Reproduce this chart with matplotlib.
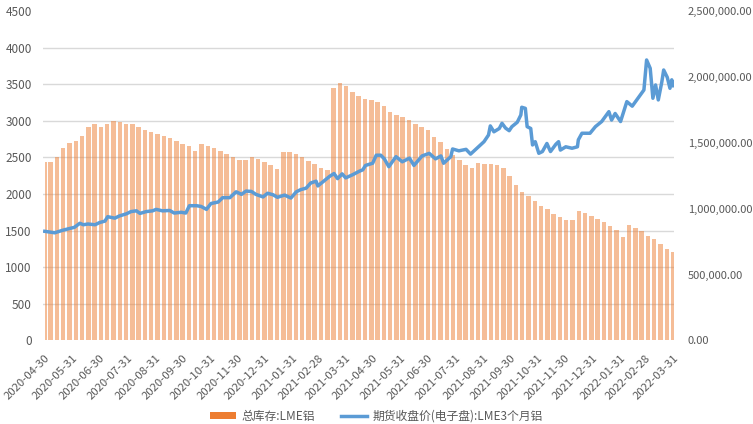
import matplotlib
matplotlib.use("Agg")
import matplotlib.pyplot as plt
import matplotlib.dates as mdates
from matplotlib.ticker import MultipleLocator, FuncFormatter
from matplotlib.patches import Patch
from matplotlib.lines import Line2D
import pandas as pd
import numpy as np

plt.rcParams['font.family'] = ['Noto Sans CJK SC', 'DejaVu Sans']

start_date = "2020-04-30"
end_date = "2022-03-31"

# Weekly LME aluminium total stock (tonnes), one value per week starting 2020-04-27
stock = [1356000, 1356000, 1389000, 1461000, 1500000, 1517000, 1550000, 1617000, 1644000, 1622000,
         1639000, 1667000, 1661000, 1644000, 1639000, 1617000, 1600000, 1583000, 1567000, 1550000,
         1533000, 1517000, 1494000, 1472000, 1439000, 1489000, 1478000, 1461000, 1439000, 1417000,
         1394000, 1367000, 1372000, 1394000, 1378000, 1356000, 1328000, 1300000, 1428000, 1433000,
         1417000, 1394000, 1361000, 1339000, 1306000, 1294000, 1917000, 1956000, 1928000, 1889000,
         1856000, 1833000, 1822000, 1806000, 1778000, 1733000, 1711000, 1694000, 1672000, 1639000,
         1617000, 1594000, 1544000, 1506000, 1456000, 1406000, 1367000, 1333000, 1311000, 1350000,
         1339000, 1339000, 1333000, 1311000, 1250000, 1178000, 1128000, 1094000, 1056000, 1022000,
         994000, 961000, 939000, 911000, 911000, 983000, 967000, 944000, 922000, 900000,
         872000, 839000, 783000, 878000, 856000, 828000, 794000, 767000, 733000, 694000,
         672000]

# LME 3-month aluminium close: days after 2020-04-30 and price
price_days = [0, 11, 20, 28, 33, 39, 43, 48, 56, 61, 67, 70, 78, 83, 91, 96, 102, 106, 113, 120,
              124, 131, 139, 144, 152, 157, 161, 169, 174, 180, 185, 193, 198, 206, 213, 219, 224, 230, 235, 243,
              248, 254, 259, 267, 274, 280, 285, 291, 296, 302, 304, 311, 317, 322, 326, 331, 335, 343, 350, 354,
              357, 365, 369, 374, 378, 383, 391, 398, 406, 411, 420, 428, 435, 441, 444, 452, 454, 461, 469, 474,
              481, 489, 494, 496, 500, 506, 509, 513, 517, 520, 526, 530, 531, 535, 537, 541, 543, 546, 550, 554,
              559, 563, 569, 572, 574, 580, 587, 593, 594, 598, 607, 613, 620, 628, 631, 635, 641, 648, 654, 659,
              667, 670, 674, 677, 680, 683, 687, 689, 693, 696, 698, 700]
price = [1490, 1470, 1505, 1530, 1545, 1600, 1580, 1590, 1580, 1610, 1630, 1690, 1670, 1700, 1730, 1760, 1770, 1735, 1760, 1770,
         1790, 1770, 1775, 1740, 1750, 1740, 1840, 1840, 1830, 1790, 1870, 1890, 1950, 1950, 2030, 1995, 2040, 2035, 1995, 1960,
         2010, 1990, 1955, 1985, 1945, 2030, 2060, 2080, 2150, 2175, 2110, 2180, 2240, 2280, 2210, 2275, 2220, 2265, 2310, 2330,
         2390, 2420, 2530, 2530, 2480, 2373, 2510, 2440, 2490, 2390, 2520, 2555, 2480, 2520, 2420, 2510, 2615, 2590, 2610, 2545,
         2625, 2715, 2806, 2930, 2850, 2895, 2966, 2900, 2865, 2920, 2980, 3080, 3185, 3170, 2920, 2895, 2670, 2715, 2556, 2580,
         2690, 2580, 2680, 2715, 2600, 2645, 2625, 2645, 2740, 2830, 2830, 2920, 2990, 3125, 3010, 3100, 2990, 3262, 3200, 3285,
         3421, 3831, 3717, 3308, 3490, 3285, 3535, 3694, 3594, 3444, 3560, 3480]

label_stock = "总库存:LME铝"
label_price = "期货收盘价(电子盘):LME3个月铝"

c_bar = "#ED7D31"
c_line = "#5B9BD5"
c_text = "#595959"
c_grid = "#D9D9D9"

start = pd.Timestamp(start_date)
end = pd.Timestamp(end_date)
week_mon = pd.date_range("2020-04-27", periods=len(stock), freq="7D")
bar_left = [max(m, start) for m in week_mon]
bar_right = [min(m + pd.Timedelta(days=5), end + pd.Timedelta(days=1)) for m in week_mon]
bl = mdates.date2num(bar_left)
br = mdates.date2num(bar_right)

price_dates = start + pd.to_timedelta(price_days, unit="D")

fig = plt.figure(figsize=(7.53, 4.24), dpi=100)
ax = fig.add_axes([43 / 753, 1 - 340.4 / 424, 631 / 753, 329.4 / 424])
ax2 = ax.twinx()

# bars on right axis
ax2.bar(bl, np.array(stock), width=br - bl, align="edge", color=c_bar, alpha=0.5, linewidth=0, zorder=2)
ax2.set_ylim(0, 2500000)
ax2.yaxis.set_major_locator(MultipleLocator(500000))
ax2.yaxis.set_major_formatter(FuncFormatter(lambda v, p: f"{v:,.2f}"))
ax2.yaxis.set_minor_locator(MultipleLocator(2500000 / 9))
ax2.grid(which="minor", axis="y", color=c_grid, linewidth=1.0, zorder=0)
ax2.set_axisbelow(True)
ax2.tick_params(axis="y", which="both", length=0, labelsize=8, labelcolor=c_text, pad=10)

# line on left axis, drawn on top
ax.set_zorder(ax2.get_zorder() + 1)
ax.patch.set_visible(False)
ax.plot(mdates.date2num(price_dates), price, color=c_line, linewidth=2.5, solid_joinstyle="round", zorder=3)
ax.set_ylim(0, 4500)
ax.yaxis.set_major_locator(MultipleLocator(500))
ax.tick_params(axis="y", length=0, labelsize=8.5, labelcolor=c_text, pad=8)

ax.set_xlim(mdates.date2num(start) - 2, mdates.date2num(end) + 0.5)
ticks = pd.date_range(start_date, end_date, freq="ME")
ax.set_xticks(mdates.date2num(ticks))
ax.set_xticklabels([t.strftime("%Y-%m-%d") for t in ticks], rotation=45, ha="right",
                   rotation_mode="anchor", fontsize=8.2, color=c_text)
ax.tick_params(axis="x", length=0, pad=9)

for a in (ax, ax2):
    for s in a.spines.values():
        s.set_visible(False)

handles = [Patch(facecolor=c_bar, edgecolor="none"),
           Line2D([0], [0], color=c_line, linewidth=2.5)]
fig.legend(handles, [label_stock, label_price], loc="center", bbox_to_anchor=(0.5, 0.018),
           ncol=2, frameon=False, fontsize=8.5, labelcolor=c_text, handlelength=2.2,
           handleheight=0.6, columnspacing=2.2, handletextpad=0.5)

fig.savefig("out.png", dpi=100)
